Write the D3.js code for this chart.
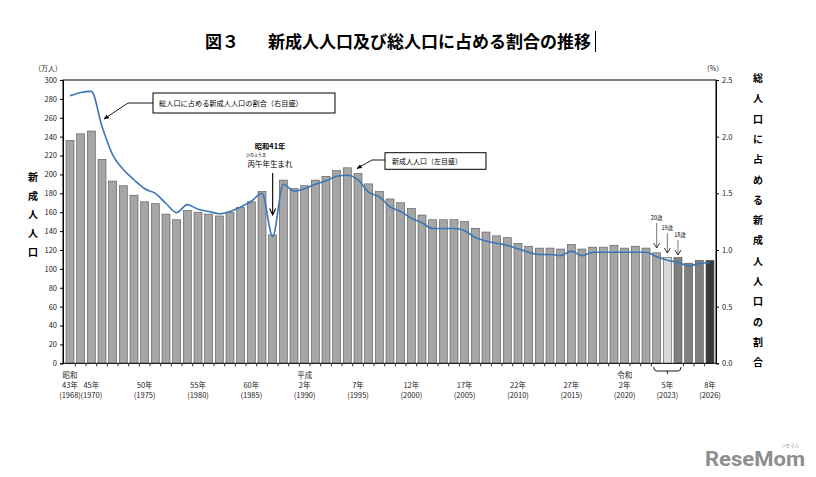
<!DOCTYPE html>
<html>
<head>
<meta charset="utf-8">
<script src="https://cdn.jsdelivr.net/npm/d3@7"></script>
<style>
  body { margin: 0; background: #fff; }
  svg { display: block; }
  text { font-family: "Noto Sans CJK JP", "Noto Sans", sans-serif; }
</style>
</head>
<body>
<div id="chart"></div>
<script>
// categories: one per bar, 2023 has three bars (20歳 / 19歳 / 18歳)
const categories = ["1968","1969","1970","1971","1972","1973","1974","1975","1976","1977",
  "1978","1979","1980","1981","1982","1983","1984","1985","1986","1987",
  "1988","1989","1990","1991","1992","1993","1994","1995","1996","1997",
  "1998","1999","2000","2001","2002","2003","2004","2005","2006","2007",
  "2008","2009","2010","2011","2012","2013","2014","2015","2016","2017",
  "2018","2019","2020","2021","2022","2023_20","2023_19","2023_18","2024","2025","2026"];

// 新成人人口 (万人)
const population = [236,243,246,216,193,188,178,171,169,158,
  152,162,160,158,156,160,165,171,182,136,
  194,185,188,194,198,204,207,201,190,182,
  174,170,164,157,152,152,152,150,143,139,
  135,133,127,124,122,122,121,126,121,123,
  123,125,122,124,122,117,112,112,106,109,109];

// 総人口に占める割合 (%)
const ratio = [2.36,2.39,2.40,2.09,1.84,1.71,1.62,1.54,1.50,1.41,
  1.33,1.40,1.36,1.34,1.32,1.34,1.38,1.43,1.50,1.12,
  1.58,1.52,1.54,1.58,1.61,1.65,1.66,1.62,1.51,1.47,
  1.38,1.34,1.28,1.24,1.19,1.19,1.19,1.17,1.11,1.08,
  1.06,1.04,1.01,0.98,0.96,0.96,0.95,0.99,0.95,0.98,
  0.98,0.98,0.98,0.98,0.98,0.94,0.91,0.89,0.86,0.88,0.89];

const leftTicks = [0,20,40,60,80,100,120,140,160,180,200,220,240,260,280,300];
const rightTicks = [0,0.5,1.0,1.5,2.0,2.5];

// x axis labels
const labelKeys = ["1968","1970","1975","1980","1985","1990","1995","2000","2005","2010","2015","2020","2023_19","2026"];
const eraLabels = ["昭和","","","","","平成","","","","","","令和","",""];
const jpYearLabels = ["43年","45年","50年","55年","60年","2年","7年","12年","17年","22年","27年","2年","5年","8年"];
const adYearLabels = ["(1968)","(1970)","(1975)","(1980)","(1985)","(1990)","(1995)","(2000)","(2005)","(2010)","(2015)","(2020)","(2023)","(2026)"];

const group2023 = ["2023_20","2023_19","2023_18"];

const W = 816, H = 477;
const pLeft = 63, pRight = 716, pTop = 80, pBottom = 363.3;

const svg = d3.select("#chart").append("svg")
  .attr("width", W)
  .attr("height", H);

const x = d3.scaleBand()
  .domain(categories)
  .range([64.67, 715.33])
  .paddingInner(0.25)
  .paddingOuter(0.125);

const yL = d3.scaleLinear().domain([0, 300]).range([pBottom, pTop]);
const yR = d3.scaleLinear().domain([0, 2.5]).range([pBottom, pTop]);

function barFill(k) {
  if (k === "2023_19") return "#d9d9d9";
  if (k === "2023_18" || k === "2024" || k === "2025") return "#7f7f7f";
  if (k === "2026") return "#3a3a3a";
  return "#a6a6a6";
}

// title
svg.append("text").attr("x", 205).attr("y", 47.5)
  .attr("font-size", 17).attr("font-weight", "bold").text("図３");
svg.append("text").attr("x", 268).attr("y", 47.5)
  .attr("font-size", 17).attr("font-weight", "bold")
  .text("新成人人口及び総人口に占める割合の推移");
svg.append("line").attr("x1", 595.5).attr("x2", 595.5).attr("y1", 31).attr("y2", 52)
  .attr("stroke", "#000").attr("stroke-width", 1);

// bars
const rows = categories.map((k, i) => ({k: k, pop: population[i], r: ratio[i]}));

svg.append("g").selectAll("rect")
  .data(rows)
  .enter()
  .append("rect")
  .attr("x", d => x(d.k))
  .attr("y", d => yL(d.pop))
  .attr("width", x.bandwidth())
  .attr("height", d => pBottom - yL(d.pop))
  .attr("fill", d => barFill(d.k))
  .attr("stroke", "#555")
  .attr("stroke-width", 0.6);

// ratio line
const line = d3.line()
  .x(d => x(d.k) + x.bandwidth() / 2)
  .y(d => yR(d.r))
  .curve(d3.curveMonotoneX);

svg.append("path")
  .datum(rows)
  .attr("d", line)
  .attr("fill", "none")
  .attr("stroke", "#3a76b6")
  .attr("stroke-width", 1.6);

// plot frame
svg.append("rect")
  .attr("x", pLeft).attr("y", pTop)
  .attr("width", pRight - pLeft).attr("height", pBottom - pTop)
  .attr("fill", "none").attr("stroke", "#000").attr("stroke-width", 1);

// left axis
const gL = svg.append("g")
  .attr("transform", `translate(${pLeft},0)`)
  .call(d3.axisLeft(yL).tickValues(leftTicks).tickSize(3).tickPadding(3));
gL.attr("font-family", null).attr("font-size", null);
gL.selectAll("text").attr("font-size", 7.5).attr("fill", "#222");
gL.select(".domain").attr("stroke", "#000");

// right axis
const gR = svg.append("g")
  .attr("transform", `translate(${pRight},0)`)
  .call(d3.axisRight(yR).tickValues(rightTicks).tickFormat(d3.format(".1f")).tickSize(3).tickPadding(3));
gR.attr("font-family", null).attr("font-size", null);
gR.selectAll("text").attr("font-size", 7.5).attr("fill", "#222");
gR.select(".domain").attr("stroke", "#000");

// bottom ticks between bars (none inside the 2023 group)
const step = x.step();
const boundaries = categories.slice(0, -1)
  .filter((k, i) => !(group2023.includes(k) && group2023.includes(categories[i + 1])))
  .map(k => x(k) + x.bandwidth() + (step - x.bandwidth()) / 2);
svg.append("g").selectAll("line")
  .data(boundaries)
  .enter()
  .append("line")
  .attr("x1", d => d).attr("x2", d => d)
  .attr("y1", pBottom).attr("y2", pBottom + 3)
  .attr("stroke", "#000").attr("stroke-width", 0.8);

// x labels
const xl = svg.append("g").attr("font-size", 7.5).attr("fill", "#222").attr("text-anchor", "middle");
labelKeys.forEach((k, i) => {
  const cx = x(k) + x.bandwidth() / 2;
  if (eraLabels[i]) xl.append("text").attr("x", cx).attr("y", 378).text(eraLabels[i]);
  xl.append("text").attr("x", cx).attr("y", 387.5).text(jpYearLabels[i]);
  xl.append("text").attr("x", cx).attr("y", 397.5).text(adYearLabels[i]);
});

// bracket under the 2023 bars
const bx0 = x("2023_20") + 1, bx1 = x("2023_18") + x.bandwidth() - 1;
const bmid = x("2023_19") + x.bandwidth() / 2;
svg.append("path")
  .attr("d", `M${bx0},367 Q${bx0},371 ${bx0 + 3},371 L${bx1 - 3},371 Q${bx1},371 ${bx1},367 M${bmid},371 L${bmid},374`)
  .attr("fill", "none").attr("stroke", "#000").attr("stroke-width", 0.9);

// unit labels
svg.append("text").attr("x", 48).attr("y", 70.5).attr("font-size", 7)
  .attr("text-anchor", "middle").attr("fill", "#222").text("（万人）");
svg.append("text").attr("x", 713).attr("y", 70.5).attr("font-size", 7)
  .attr("text-anchor", "middle").attr("fill", "#222").text("（%）");

// vertical axis titles
const leftTitle = "新成人人口".split("");
svg.append("g").selectAll("text")
  .data(leftTitle)
  .enter()
  .append("text")
  .attr("x", 33)
  .attr("y", (d, i) => 181 + i * 18.7)
  .attr("font-size", 10).attr("font-weight", "bold")
  .attr("text-anchor", "middle")
  .text(d => d);

const rightTitle = "総人口に占める新成人人口の割合".split("");
svg.append("g").selectAll("text")
  .data(rightTitle)
  .enter()
  .append("text")
  .attr("x", 758)
  .attr("y", (d, i) => 82 + i * 20.3)
  .attr("font-size", 10).attr("font-weight", "bold")
  .attr("text-anchor", "middle")
  .text(d => d);

// arrow marker
svg.append("defs").append("marker")
  .attr("id", "head")
  .attr("viewBox", "0 0 10 10")
  .attr("refX", 9).attr("refY", 5)
  .attr("markerWidth", 6).attr("markerHeight", 6)
  .attr("orient", "auto")
  .append("path").attr("d", "M0,1 L10,5 L0,9 z").attr("fill", "#000");

// callout: ratio line
svg.append("rect").attr("x", 153).attr("y", 93).attr("width", 182).attr("height", 20)
  .attr("fill", "#fff").attr("stroke", "#000").attr("stroke-width", 1);
svg.append("text").attr("x", 159).attr("y", 105.8).attr("font-size", 7.2)
  .text("総人口に占める新成人人口の割合（右目盛）");
svg.append("path").attr("d", "M153,103 L128,103 L104,119")
  .attr("fill", "none").attr("stroke", "#000").attr("stroke-width", 0.9)
  .attr("marker-end", "url(#head)");

// callout: bars
svg.append("rect").attr("x", 385).attr("y", 152.7).attr("width", 101).attr("height", 16.6)
  .attr("fill", "#fff").attr("stroke", "#000").attr("stroke-width", 1);
svg.append("text").attr("x", 392).attr("y", 163.8).attr("font-size", 7)
  .text("新成人人口（左目盛）");
svg.append("path").attr("d", "M385,160 L372,160 L357,168.5")
  .attr("fill", "none").attr("stroke", "#000").attr("stroke-width", 0.9)
  .attr("marker-end", "url(#head)");

// 丙午 note
const ax = x("1987") + x.bandwidth() / 2;
svg.append("text").attr("x", 270).attr("y", 149).attr("font-size", 7.3)
  .attr("font-weight", "bold").attr("text-anchor", "middle").text("昭和41年");
svg.append("text").attr("x", 256).attr("y", 156.5).attr("font-size", 4)
  .attr("text-anchor", "middle").text("ひのえうま");
svg.append("text").attr("x", 270).attr("y", 166.5).attr("font-size", 7.5)
  .attr("text-anchor", "middle").text("丙午年生まれ");
svg.append("path")
  .attr("d", `M${ax},173 L${ax},215 M${ax - 3},208.5 L${ax},215 L${ax + 3},208.5`)
  .attr("fill", "none").attr("stroke", "#000").attr("stroke-width", 1.1);

// 20歳 / 19歳 / 18歳 notes
const ageNotes = [
  {k: "2023_20", label: "20歳", ty: 220, y0: 223, y1: 248, dx: 0},
  {k: "2023_19", label: "19歳", ty: 230, y0: 233, y1: 253, dx: 0},
  {k: "2023_18", label: "18歳", ty: 237, y0: 240, y1: 255, dx: 2}
];
ageNotes.forEach(n => {
  const cx = x(n.k) + x.bandwidth() / 2;
  svg.append("text").attr("x", cx + n.dx).attr("y", n.ty).attr("font-size", 5.5)
    .attr("text-anchor", "middle").text(n.label);
  svg.append("line").attr("x1", cx).attr("x2", cx).attr("y1", n.y0).attr("y2", n.y1)
    .attr("stroke", "#777").attr("stroke-width", 1);
  svg.append("path").attr("d", `M${cx - 3},${n.y1 - 5} L${cx},${n.y1} L${cx + 3},${n.y1 - 5}`)
    .attr("fill", "none").attr("stroke", "#222").attr("stroke-width", 0.9);
});

// watermark
svg.append("text").attr("x", 705).attr("y", 466).attr("font-size", 21)
  .attr("font-weight", "bold").attr("fill", "#8e8e8e")
  .attr("textLength", 100).attr("lengthAdjust", "spacingAndGlyphs")
  .style("font-family", "Roboto, sans-serif").text("ReseMom");
svg.append("text").attr("x", 790).attr("y", 447).attr("font-size", 4.5)
  .attr("fill", "#8e8e8e").attr("text-anchor", "middle").text("リセマム");
</script>
</body>
</html>
